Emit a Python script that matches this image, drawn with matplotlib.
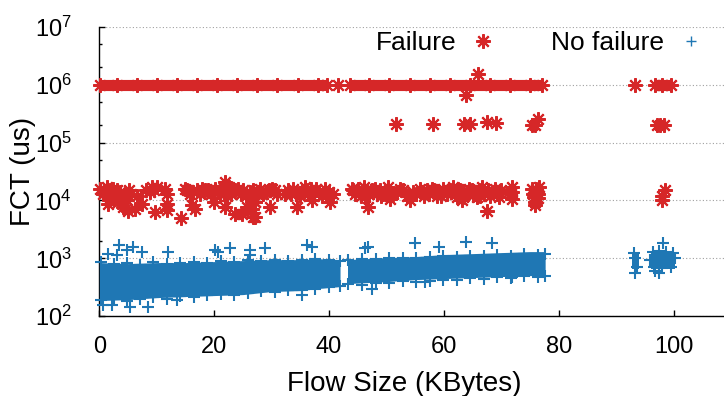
import matplotlib
matplotlib.use('Agg')
import matplotlib.pyplot as plt
from matplotlib.lines import Line2D
from matplotlib.ticker import LogLocator, FixedLocator, NullFormatter

plt.rcParams['font.family'] = ['Liberation Sans', 'DejaVu Sans']
plt.rcParams['mathtext.fontset'] = 'custom'
plt.rcParams['mathtext.rm'] = 'Liberation Sans'
plt.rcParams['font.size'] = 18

red = '#d62728'
blue = '#1f77b4'
ast = (8, 2, 0)   # gnuplot-like asterisk

# ---- Failure: timeouts at ~1 s (solid rows of points)
fail_row_start = [0.0, 43.6, 96.7]
fail_row_end = [39.6, 77.1, 99.5]
fail_row_y = 1e6
fail_row_x = [0.2, 3, 6.5, 10, 13.5, 17, 20.5, 24, 27.5, 31, 34.5, 38, 39.6, 41.5,
              43.6, 47, 50.5, 54, 57.5, 61, 64.5, 68, 71.5, 75, 77.1, 93.2, 96.7, 97.9, 99.5]

# ---- Failure: scattered points
fail_x = [65.9, 63.8,
          51.6, 58.1, 63.5, 64.6, 67.4, 69.0, 75.3, 75.8, 76.4, 97.0, 97.6, 98.3,
          0.1, 1.3, 2.4, 2.7, 3.6, 4.5, 1.6, 3.3, 4.2, 4.8, 5.0, 6.2, 6.5, 7.4, 8.2, 9.1,
          10.0, 9.7, 11.4, 11.7, 11.7, 11.7, 14.3, 14.9, 15.8, 16.1, 16.7, 17.0, 17.8,
          19.0, 19.9, 20.1, 21.3, 21.9, 22.2, 22.8, 23.6, 24.2, 21.9, 23.6, 24.8, 25.7,
          26.5, 26.8, 27.1,
          26.8, 28.0, 29.1, 30.6, 27.1, 26.5, 27.1, 29.7, 32.3, 33.8, 34.4, 34.9, 35.8,
          36.4, 37.0, 37.8, 38.7, 39.9, 40.2, 43.9, 46.0, 46.5, 46.2, 46.8, 47.4, 48.3,
          49.4, 50.3, 50.6, 51.8, 52.9, 53.5,
          54.1, 55.2, 57.0, 57.9, 58.7, 59.9, 61.6, 62.2, 63.1, 64.8, 65.7, 66.6, 67.4,
          68.0, 68.9, 69.5, 71.8, 71.8, 75.3, 75.6, 75.8, 76.1, 76.5, 75.9, 76.4,
          59.0, 60.5, 62.8, 63.5, 65.0, 66.0, 67.0, 68.5, 1.0, 2.0, 3.0, 4.0, 5.5, 21.0,
          22.5, 23.0, 24.7, 28.5, 30.0, 36.0, 44.5, 48.9, 56.0,
          98.0, 98.4, 98.0,
          0.6, 1.8, 2.2, 3.0, 5.2, 8.8, 9.5, 15.3, 16.3, 17.5, 18.4, 19.5, 20.6, 22.0, 23.2,
          25.0, 25.5, 26.2, 27.5, 29.5, 31.0, 32.8, 33.3, 35.3, 36.8, 38.2, 39.3, 40.6,
          44.2, 45.0, 45.5, 47.0, 47.9, 49.0, 50.0, 51.2, 52.3, 54.6, 55.8, 56.5, 57.4,
          58.2, 59.5, 61.0, 61.9, 62.5, 63.3, 64.0, 64.3, 65.3, 66.3, 67.7, 69.2, 69.9,
          71.8, 76.0, 75.5, 76.3]
fail_y = [1.55e6, 6.6e5,
          2.1e5, 2.1e5, 2.1e5, 2.1e5, 2.3e5, 2.2e5, 2.0e5, 2.0e5, 2.6e5, 2.0e5, 2.0e5, 2.0e5,
          1.6e4, 1.7e4, 1.6e4, 1.3e4, 1.4e4, 1.2e4, 8.8e3, 9.4e3, 7.7e3, 1.0e4, 6.7e3, 7.2e3,
          1.2e4, 8.8e3, 1.5e4, 1.7e4, 1.7e4, 6.3e3, 1.6e4, 1.3e4, 8.8e3, 6.8e3, 5.0e3,
          1.6e4, 1.3e4, 8.2e3, 7.2e3, 1.5e4, 1.6e4, 1.5e4, 9.4e3, 1.6e4, 1.5e4, 2.1e4,
          1.2e4, 1.5e4, 1.5e4, 1.6e4, 7.7e3, 5.9e3, 5.9e3, 7.7e3, 1.2e4, 5.2e3, 9.4e3,
          1.5e4, 1.6e4, 1.4e4, 1.5e4, 9.4e3, 7.2e3, 5.2e3, 7.7e3, 1.3e4, 1.6e4, 7.7e3,
          1.2e4, 1.7e4, 1.3e4, 1.0e4, 1.6e4, 1.2e4, 1.4e4, 9.4e3, 1.6e4, 1.7e4, 1.4e4,
          1.15e4, 7.7e3, 1.5e4, 1.3e4, 1.3e4, 1.7e4, 1.05e4, 1.4e4, 1.5e4, 1.2e4,
          1.0e4, 1.3e4, 1.5e4, 1.6e4, 1.2e4, 1.6e4, 1.7e4, 1.14e4, 1.0e4, 1.5e4, 1.14e4,
          1.7e4, 6.7e3, 1.2e4, 1.6e4, 1.14e4, 1.7e4, 1.05e4, 1.6e4, 1.14e4, 9.4e3, 1.4e4,
          1.7e4, 8.5e3, 1.3e4,
          1.4e4, 1.3e4, 1.5e4, 1.3e4, 1.25e4, 1.5e4, 1.3e4, 1.4e4, 1.4e4, 1.2e4, 1.5e4,
          1.1e4, 1.3e4, 1.3e4, 1.7e4, 1.3e4, 1.3e4, 1.3e4, 1.6e4, 1.5e4, 1.3e4, 1.5e4, 1.4e4,
          1.2e4, 1.5e4, 1.0e4,
          1.3e4, 1.5e4, 1.1e4, 1.2e4, 1.5e4, 1.4e4, 1.5e4, 1.5e4, 1.4e4, 1.3e4, 1.5e4,
          1.3e4, 1.4e4, 1.4e4, 1.6e4, 1.5e4, 1.2e4, 1.4e4, 1.3e4, 1.5e4, 1.3e4, 1.5e4,
          1.3e4, 1.4e4, 1.6e4, 1.4e4, 1.6e4, 1.3e4, 1.5e4, 1.6e4, 1.2e4, 1.3e4, 1.6e4,
          1.2e4, 1.4e4, 1.3e4, 1.6e4, 1.4e4, 1.6e4, 1.2e4, 1.3e4, 1.5e4, 1.2e4, 1.5e4,
          1.3e4, 1.6e4, 1.15e4, 1.4e4, 1.6e4, 1.3e4, 1.2e4, 1.5e4, 1.3e4, 1.5e4, 1.4e4,
          1.6e4, 1.3e4, 1.1e4]

# ---- No failure: dense body of points (envelope)
nf_band1_x = [0, 5, 10, 15, 20, 25, 30, 35, 38, 41.9]
nf_band1_hi = [846, 813, 846, 846, 880, 916, 951, 951, 989, 951]
nf_band1_lo = [187, 194, 210, 219, 228, 237, 268, 278, 301, 326]
nf_band2_x = [43.2, 50, 55, 60, 65, 70, 75, 77.6]
nf_band2_hi = [951, 1032, 1073, 1164, 1208, 1259, 1309, 1309]
nf_band2_lo = [367, 397, 430, 448, 466, 485, 504, 504]
nf_band3_x = [92.8, 94.0]
nf_band3_hi = [1208, 1208]
nf_band3_lo = [667, 667]
nf_band4_x = [96.0, 100.2]
nf_band4_hi = [1309, 1309]
nf_band4_lo = [667, 667]

# ---- No failure: points along the body edges
nf_edge_x = [0.3, 2.5, 4.8, 7.1, 9.4, 11.8, 14.1, 16.5, 18.7, 21.2, 23.5, 25.9, 28.2, 30.6,
             32.9, 35.3, 37.6, 40.0, 41.9, 43.3, 45.7, 48.1, 50.4, 52.8, 55.1, 57.5, 59.8,
             62.2, 64.5, 66.9, 69.2, 71.6, 73.9, 76.3, 77.6]
nf_edge_top = [850, 800, 830, 780, 860, 800, 820, 870, 840, 900, 880, 920, 900, 950, 900,
               930, 960, 920, 900, 920, 980, 960, 1000, 1020, 1000, 1060, 1080, 1050, 1120,
               1100, 1150, 1120, 1180, 1150, 1200]
nf_edge_bot = [190, 205, 185, 200, 215, 200, 225, 215, 230, 240, 235, 250, 270, 260, 290,
               280, 300, 320, 330, 360, 350, 380, 370, 400, 390, 410, 430, 420, 450, 440,
               470, 460, 490, 480, 500]
nf_clu_x = [93.0, 93.6, 93.2, 96.3, 97.5, 98.7, 99.9, 96.5, 98.0, 99.5, 100.2, 95.9]
nf_clu_y = [1250, 700, 1000, 1300, 1350, 1300, 1250, 700, 680, 700, 1000, 950]

# ---- No failure: outliers
nf_out_x = [1.6, 3.0, 3.5, 4.8, 5.9, 7.4, 12.0, 20.1, 20.7, 22.8, 26.2, 26.2, 28.8, 36.1,
            37.0, 46.25, 46.8, 54.95, 59.2, 63.9, 68.3, 98.1,
            0.7, 2.15, 5.3, 8.5, 13.5, 35.2, 47.4, 56.7, 71.8, 93.2, 97.5, 96.8]
nf_out_y = [1.19e3, 1.14e3, 1.7e3, 1.39e3, 1.58e3, 1.3e3, 1.3e3, 1.39e3, 1.3e3, 1.49e3,
            1.39e3, 1.14e3, 1.49e3, 1.7e3, 1.55e3, 1.49e3, 1.58e3, 1.81e3, 1.58e3, 1.94e3,
            1.86e3, 1.84e3,
            1.55e2, 1.55e2, 1.45e2, 1.45e2, 1.9e2, 2.3e2, 3.0e2, 3.9e2, 4.8e2, 5.5e2, 5.5e2, 6.0e2]

fig = plt.figure(figsize=(7.24, 3.96), dpi=100)
ax = fig.add_axes([99.3 / 724, 79.7 / 396, 632 / 724, 289.6 / 396])
ax.set_yscale('log')

pkw = dict(ls='none', marker='+', ms=8, mew=1.5, color=blue, zorder=3, clip_on=False)
for bx, lo, hi in [(nf_band1_x, nf_band1_lo, nf_band1_hi), (nf_band2_x, nf_band2_lo, nf_band2_hi),
                   (nf_band3_x, nf_band3_lo, nf_band3_hi), (nf_band4_x, nf_band4_lo, nf_band4_hi)]:
    ax.fill_between(bx, lo, hi, color=blue, lw=0, zorder=3)
ax.plot(nf_edge_x, nf_edge_top, **pkw)
ax.plot(nf_edge_x, nf_edge_bot, **pkw)
ax.plot(nf_clu_x, nf_clu_y, **pkw)
ax.plot(nf_out_x, nf_out_y, **pkw)

akw = dict(ls='none', marker=ast, ms=10.5, mew=1.5, color=red, zorder=4, clip_on=False)
ax.hlines([fail_row_y] * len(fail_row_start), fail_row_start, fail_row_end, color=red, lw=8, zorder=4)
ax.plot(fail_row_x, [fail_row_y] * len(fail_row_x), **akw)
ax.plot(fail_x, fail_y, **akw)

ax.set_xlim(0, 110)
ax.set_ylim(1e2, 1e7)
ax.xaxis.set_major_locator(FixedLocator([0, 20, 40, 60, 80, 100]))
ax.yaxis.set_major_locator(LogLocator(base=10, numticks=10))
ax.yaxis.set_minor_locator(LogLocator(base=10, subs=(2.0, 5.0), numticks=10))
ax.yaxis.set_minor_formatter(NullFormatter())
ax.tick_params(axis='both', which='both', direction='in', top=False, right=False, labelsize=17)
ax.tick_params(axis='x', which='major', length=4.5, width=1, pad=14)
ax.tick_params(axis='y', which='major', length=4.5, width=1, pad=20)
ax.tick_params(axis='y', which='minor', length=2.5, width=1)
ax.grid(True, axis='y', which='major', color='#a0a0a0', ls=(0, (1, 2)), lw=0.8, zorder=0)

for s in ['top', 'right']:
    ax.spines[s].set_visible(False)
for s in ['left', 'bottom']:
    ax.spines[s].set_linewidth(1)

ax.set_xlabel('Flow Size (KBytes)', fontsize=20)
ax.xaxis.set_label_coords(0.483, -0.188)
ax.set_ylabel('FCT (us)', fontsize=20)
ax.yaxis.set_label_coords(-0.1, 0.5)

handles = [Line2D([], [], ls='none', marker=ast, ms=10.5, mew=1.5, color=red),
           Line2D([], [], ls='none', marker='+', ms=7, mew=1, color=blue)]
ax.legend(handles, ['Failure', 'No failure'], ncol=2, markerfirst=False, frameon=False,
          loc='upper right', bbox_to_anchor=(0.972, 0.922), bbox_transform=fig.transFigure,
          handlelength=1, handletextpad=0.5, columnspacing=2.1, borderpad=0, borderaxespad=0,
          fontsize=19)

fig.savefig('out.png', dpi=100)
